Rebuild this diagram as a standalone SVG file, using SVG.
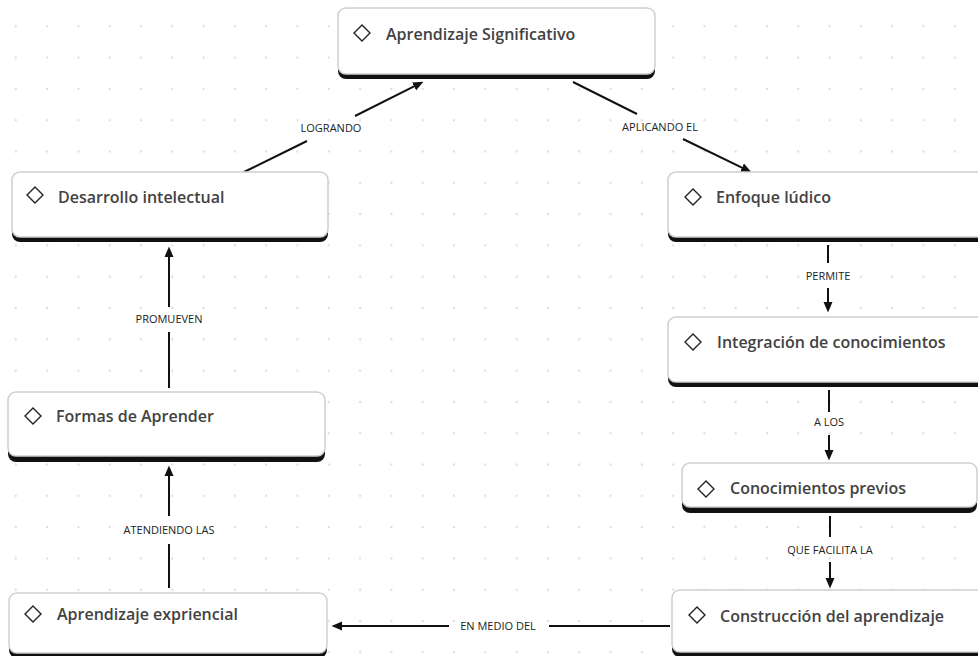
<svg xmlns="http://www.w3.org/2000/svg" width="978" height="656" viewBox="0 0 978 656">
<defs>
<pattern id="grid" x="0.15" y="10.65" width="31.3" height="31.3" patternUnits="userSpaceOnUse">
<circle cx="15.65" cy="15.65" r="1.2" fill="#dedede"/>
</pattern>
<marker id="ah" markerWidth="11" markerHeight="10" refX="5" refY="5" orient="auto" markerUnits="userSpaceOnUse">
<path d="M0,0.5 L10.5,5 L0,9.5 Z" fill="#111"/>
</marker>
<style>
.bar{fill:#111}
.box{fill:#fff;stroke:#cfcfcf;stroke-width:1.5}
.ico{fill:none;stroke:#222;stroke-width:1.4;stroke-linejoin:miter}
.ttl{font-family:"Open Sans","Noto Sans",sans-serif;font-size:16px;font-weight:600;fill:#424242}
.ln{stroke:#111;stroke-width:2;fill:none}
.lbl{font-family:"Open Sans","Noto Sans",sans-serif;font-size:11px;fill:#222;text-anchor:middle}
</style>
</defs>
<rect width="978" height="656" fill="#fff"/>
<rect width="978" height="656" fill="url(#grid)"/>

<g id="connectors">
<g id="c-logrando">
<line class="ln" x1="244" y1="172" x2="307" y2="141"/>
<line class="ln" x1="355" y1="116" x2="418.5" y2="84.2" marker-end="url(#ah)"/>
<text class="lbl" x="331" y="132">LOGRANDO</text>
</g>
<g id="c-aplicando">
<line class="ln" x1="573" y1="82" x2="637" y2="114"/>
<line class="ln" x1="683" y1="139" x2="746.5" y2="169.8" marker-end="url(#ah)"/>
<text class="lbl" x="660" y="131">APLICANDO EL</text>
</g>
<g id="c-permite">
<line class="ln" x1="828" y1="245" x2="828" y2="263"/>
<line class="ln" x1="828" y1="288" x2="828" y2="307" marker-end="url(#ah)"/>
<text class="lbl" x="828" y="280">PERMITE</text>
</g>
<g id="c-alos">
<line class="ln" x1="829" y1="390" x2="829" y2="412"/>
<line class="ln" x1="829" y1="435" x2="829" y2="455" marker-end="url(#ah)"/>
<text class="lbl" x="829" y="426">A LOS</text>
</g>
<g id="c-facilita">
<line class="ln" x1="830" y1="516" x2="830" y2="537"/>
<line class="ln" x1="830" y1="562" x2="830" y2="583" marker-end="url(#ah)"/>
<text class="lbl" x="830" y="554">QUE FACILITA LA</text>
</g>
<g id="c-medio">
<line class="ln" x1="670" y1="626" x2="549" y2="626"/>
<line class="ln" x1="449" y1="626" x2="337" y2="626" marker-end="url(#ah)"/>
<text class="lbl" x="498" y="630">EN MEDIO DEL</text>
</g>
<g id="c-atendiendo">
<line class="ln" x1="169" y1="588" x2="169" y2="544"/>
<line class="ln" x1="169" y1="516" x2="169" y2="471" marker-end="url(#ah)"/>
<text class="lbl" x="169" y="534">ATENDIENDO LAS</text>
</g>
<g id="c-promueven">
<line class="ln" x1="169" y1="388" x2="169" y2="332"/>
<line class="ln" x1="169" y1="307" x2="169" y2="252" marker-end="url(#ah)"/>
<text class="lbl" x="169" y="323">PROMUEVEN</text>
</g>
</g>

<g id="n-significativo">
<rect class="bar" x="338" y="55" width="317" height="24" rx="8"/>
<rect class="box" x="338" y="8" width="317" height="66" rx="8"/>
<path class="ico" d="M354,33 L362,25 L370,33 L362,41 Z"/>
<text class="ttl" x="386" y="40">Aprendizaje Significativo</text>
</g>
<g id="n-desarrollo">
<rect class="bar" x="12" y="218" width="316" height="24" rx="8"/>
<rect class="box" x="12" y="172" width="316" height="65" rx="8"/>
<path class="ico" d="M27,195 L35,187 L43,195 L35,203 Z"/>
<text class="ttl" x="58" y="203">Desarrollo intelectual</text>
</g>
<g id="n-enfoque">
<rect class="bar" x="668" y="218" width="320" height="24" rx="8"/>
<rect class="box" x="668" y="172" width="320" height="65" rx="8"/>
<path class="ico" d="M685,197 L693,189 L701,197 L693,205 Z"/>
<text class="ttl" x="716" y="203">Enfoque lúdico</text>
</g>
<g id="n-formas">
<rect class="bar" x="8" y="438" width="317" height="24" rx="8"/>
<rect class="box" x="8" y="392" width="317" height="64" rx="8"/>
<path class="ico" d="M25,416 L33,408 L41,416 L33,424 Z"/>
<text class="ttl" x="56" y="422">Formas de Aprender</text>
</g>
<g id="n-integracion">
<rect class="bar" x="668" y="363" width="320" height="24" rx="8"/>
<rect class="box" x="668" y="317" width="320" height="65" rx="8"/>
<path class="ico" d="M685,342 L693,334 L701,342 L693,350 Z"/>
<text class="ttl" x="717" y="348">Integración de conocimientos</text>
</g>
<g id="n-previos">
<rect class="bar" x="682" y="489" width="295" height="24" rx="8"/>
<rect class="box" x="682" y="463" width="295" height="44" rx="8"/>
<path class="ico" d="M698,489 L706,481 L714,489 L706,497 Z"/>
<text class="ttl" x="730" y="494">Conocimientos previos</text>
</g>
<g id="n-construccion">
<rect class="bar" x="672" y="633" width="320" height="24" rx="8"/>
<rect class="box" x="672" y="590" width="320" height="62" rx="8"/>
<path class="ico" d="M689,615 L697,607 L705,615 L697,623 Z"/>
<text class="ttl" x="720" y="622">Construcción del aprendizaje</text>
</g>
<g id="n-experiencial">
<rect class="bar" x="9" y="634" width="318" height="24" rx="8"/>
<rect class="box" x="9" y="593" width="318" height="60" rx="8"/>
<path class="ico" d="M25,614 L33,606 L41,614 L33,622 Z"/>
<text class="ttl" x="57" y="620">Aprendizaje expriencial</text>
</g>
</svg>
